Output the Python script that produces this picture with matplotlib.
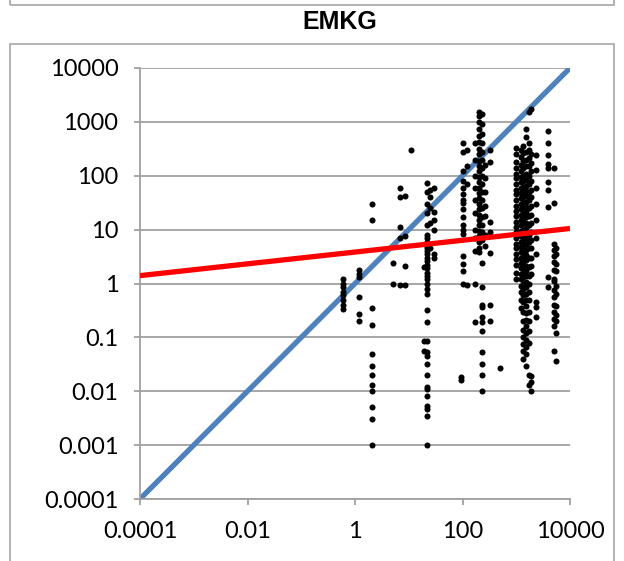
import matplotlib
matplotlib.use("Agg")
import matplotlib.pyplot as plt
from matplotlib.patches import Rectangle

# diagonal (1:1) and fitted trend line, as end points
diag_x = [1e-4, 1e4]
diag_y = [1e-4, 1e4]
trend_x = [1e-4, 1e4]
trend_y = [1.4, 10.5]

# scatter points, grouped by x column
col_x = [0.6, 1.2, 2.1, 5.0, 7.0, 8.5, 11, 19, 22, 25, 30,
         95, 100, 120, 170, 200, 230, 260, 330, 500,
         1000, 1200, 1350, 1500, 1700, 1900, 2300, 3900, 5000, 5600]
col_y = [
    [1.2, 1.0, 0.85, 0.7, 0.6, 0.5, 0.4, 0.33],
    [1.8, 1.5, 1.3, 0.55, 0.27, 0.2],
    [30, 15, 0.35, 0.17, 0.05, 0.03, 0.02, 0.013, 0.01, 0.005, 0.003, 0.001],
    [2.4, 1.0],
    [60, 40, 11, 7, 0.95],
    [42, 7.5, 2.1, 0.95],
    [300],
    [0.085, 0.055, 2.0],
    [74, 50, 30, 20, 12, 8, 7, 6, 5, 4.5, 4, 3.5, 3, 2.6, 2.2, 1.9, 1.6, 1.4,
     1.2, 1.0, 0.8, 0.63, 0.32, 0.19, 0.085, 0.054, 0.045, 0.032, 0.02, 0.012,
     0.011, 0.008, 0.0054, 0.0047, 0.0034, 0.001],
    [55, 40, 25, 13, 4.5],
    [60, 21, 15, 10, 3.5, 3.0],
    [0.018, 0.016],
    [410, 280, 120, 80, 60, 45, 36, 31, 24, 17.5, 12, 10, 8.2, 3.2, 2.3, 1.7, 1.0],
    [300, 150, 70, 0.95],
    [410, 200, 100, 60, 35, 20, 10, 7, 4, 1.0, 0.19],
    [1540, 1300, 1000, 750, 550, 420, 320, 250, 190, 150, 120, 95, 75, 60, 48,
     38, 30, 24, 19, 15, 12, 9.5, 7.5, 6, 4.6, 3.8],
    [1400, 900, 600, 400, 280, 200, 140, 100, 70, 50, 35, 25, 17, 12, 9, 6.5,
     2.4, 0.85, 0.4, 0.36, 0.24, 0.19, 0.13, 0.054, 0.032, 0.02, 0.01],
    [160, 90, 50, 28, 18, 8, 5],
    [300, 180, 14, 9, 3.7, 0.4, 0.2],
    [0.027],
    [330, 250, 180, 140, 110, 90, 70, 55, 45, 35, 28, 22, 18, 14, 11, 9, 7,
     5.5, 4.5, 3.5, 2.8, 2.2, 1.6, 1.2],
    [300, 220, 160, 120, 95, 75, 60, 48, 38, 30, 24, 19, 15, 12, 9.5, 7.5, 6,
     4.8, 3.8, 3, 2.4, 1.9, 1.5, 1.2, 0.9, 0.7, 0.5, 0.35],
    [350, 260, 190, 140, 100, 80, 62, 50, 40, 32, 25, 20, 16, 13, 10, 8, 6.5,
     5, 4, 3.2, 2.5, 2.0, 1.6, 1.3, 1.0, 0.8, 0.6, 0.45, 0.3, 0.2, 0.14, 0.1,
     0.075, 0.055, 0.04],
    [740, 520, 280, 200, 150, 110, 85, 65, 52, 42, 33, 26, 21, 17, 13, 10.5,
     8.5, 7, 5.5, 4.2, 3.4, 2.7, 2.1, 1.7, 1.35, 1.05, 0.85, 0.65, 0.5, 0.38,
     0.28, 0.21, 0.16, 0.12, 0.09, 0.065, 0.05, 0.03],
    [1540, 400, 300, 210, 150, 100, 70, 50, 35, 25, 18, 12, 8, 6, 4.5, 3, 2,
     1.4, 1.0, 0.7, 0.5, 0.3, 0.2, 0.13, 0.08, 0.02, 0.013],
    [1700, 250, 170, 120, 80, 55, 40, 28, 19, 13, 9, 6.5, 4.5, 3, 2.1, 1.5,
     0.019, 0.015, 0.01],
    [240, 130, 60, 30, 15, 7, 3.5, 0.45, 0.36, 0.24],
    [680, 410, 240, 165, 140, 75, 55, 26, 1.3, 0.85],
    [140, 31, 5.3, 4.2, 3.3, 2.5, 1.8, 1.2, 1.1, 0.75, 0.55, 0.4, 0.3, 0.22,
     0.16, 0.055],
    [4.5, 3.6, 2.3, 1.7, 0.9, 0.63, 0.38, 0.26, 0.2, 0.12, 0.037],
]

x_ticks = [1e-4, 1e-2, 1, 1e2, 1e4]
x_labels = ["0.0001", "0.01", "1", "100", "10000"]
y_ticks = [1e-4, 1e-3, 1e-2, 1e-1, 1, 10, 100, 1000, 1e4]
y_labels = ["0.0001", "0.001", "0.01", "0.1", "1", "10", "100", "1000", "10000"]

plt.rcParams['font.family'] = ['Lato', 'DejaVu Sans']

W, H = 624, 561
fig = plt.figure(figsize=(W / 100, H / 100), dpi=100)

# panel frames (this panel and the bottom of the one above)
fig.patches.append(Rectangle((10 / W, -0.05), 604 / W, (H - 44) / H + 0.05,
                             transform=fig.transFigure, fill=False,
                             edgecolor="#a6a6a6", linewidth=1.2))
fig.patches.append(Rectangle((10 / W, 1 - 5 / H), 604 / W, 0.1,
                             transform=fig.transFigure, fill=False,
                             edgecolor="#a6a6a6", linewidth=1.2))

ax = fig.add_axes([140 / W, 1 - 499 / H, 430 / W, 431 / H])
ax.set_xscale("log")
ax.set_yscale("log")
ax.set_xlim(1e-4, 1e4)
ax.set_ylim(1e-4, 1e4)

ax.plot(diag_x, diag_y, color="#4f81bd", linewidth=3.8, zorder=2,
        solid_capstyle="butt")
for cx, ys in zip(col_x, col_y):
    ax.scatter([cx] * len(ys), ys, s=19, color="black", linewidths=0, zorder=3)
ax.plot(trend_x, trend_y, color="red", linewidth=3.8, zorder=4,
        solid_capstyle="butt")

ax.set_yticks(y_ticks)
ax.set_yticklabels(y_labels)
ax.set_xticks(x_ticks)
ax.set_xticklabels(x_labels)
ax.minorticks_off()
ax.yaxis.grid(True, color="#a0a0a0", linewidth=1.3)
ax.set_axisbelow(True)
for s in ["top", "right"]:
    ax.spines[s].set_visible(False)
for s in ["left", "bottom"]:
    ax.spines[s].set_color("#a0a0a0")
    ax.spines[s].set_linewidth(1.3)
ax.tick_params(axis="both", which="major", colors="#a0a0a0", labelcolor="black",
               labelsize=17, length=4.5, width=1.3, direction="out")
ax.tick_params(axis="x", pad=11)
ax.tick_params(axis="y", pad=11)

fig.text(340 / W, 1 - 22 / H, "EMKG", ha="center", va="center",
         fontsize=18, fontweight="bold", family=["Liberation Sans", "DejaVu Sans"])

fig.savefig("out.png", dpi=100)
